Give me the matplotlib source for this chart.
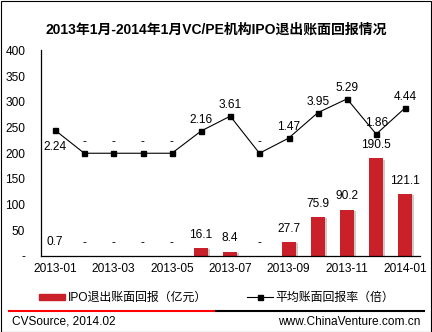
import matplotlib
matplotlib.use('Agg')
import numpy as np
import matplotlib.pyplot as plt
import matplotlib.patheffects as pe
from matplotlib.lines import Line2D
from matplotlib.patches import Patch, Rectangle

plt.rcParams['font.family'] = ['Liberation Sans', 'Noto Sans CJK SC']

# data ("-" in the source = None)
months = ['2013-01', '2013-02', '2013-03', '2013-04', '2013-05', '2013-06', '2013-07',
          '2013-08', '2013-09', '2013-10', '2013-11', '2013-12', '2014-01']
ipo_return = [0.7, None, None, None, None, 16.1, 8.4, None, 27.7, 75.9, 90.2, 190.5, 121.1]
avg_multiple = [2.24, None, None, None, None, 2.16, 3.61, None, 1.47, 3.95, 5.29, 1.86, 4.44]
bar_name = 'IPO退出账面回报（亿元）'
line_name = '平均账面回报率（倍）'
title = '2013年1月-2014年1月VC/PE机构IPO退出账面回报情况'

fs = 8.6
W, H = 432, 332

fig = plt.figure(figsize=(W / 100, H / 100), dpi=100)
ax = fig.add_axes([40.5 / W, 1 - 256 / H, 379.5 / W, 205.5 / H])

x = np.arange(len(months))
bar_vals = [v if v is not None else 0 for v in ipo_return]
ax.bar(x, bar_vals, width=0.48, color='#C9202A', zorder=2,
       path_effects=[pe.SimplePatchShadow(offset=(1.5, -1), shadow_rgbFace='0.5', alpha=0.4), pe.Normal()])
for xi, v in zip(x, ipo_return):
    txt = '-' if v is None else f'{v:.1f}'
    ax.annotate(txt, (xi, v or 0), xytext=(0, 9.5), textcoords='offset points',
                ha='center', va='center', fontsize=fs)

ax.set_xlim(-0.5, len(months) - 0.5)
ax.set_ylim(0, 400)
ax.set_yticks(range(0, 401, 50))
ax.set_yticklabels(['-'] + [str(t) for t in range(50, 401, 50)], fontsize=fs)
ax.set_xticks(x[::2])
ax.set_xticklabels(months[::2], fontsize=fs)
ax.tick_params(axis='y', length=0, pad=11)
ax.tick_params(axis='x', length=0, pad=5)
for s in ['top', 'right']:
    ax.spines[s].set_visible(False)
for s in ['left', 'bottom']:
    ax.spines[s].set_linewidth(0.9)

# line on hidden secondary axis
ax2 = ax.twinx()
ax2.set_ylim(-10, 10)
ax2.axis('off')
line_vals = [v if v is not None else 0 for v in avg_multiple]
ax2.plot(x, line_vals, color='black', lw=0.8, marker='s', ms=3.6, zorder=3)
for i, (xi, v) in enumerate(zip(x, avg_multiple)):
    txt = '-' if v is None else f'{v:.2f}'
    dy = -12 if i == 0 else 8
    ax2.annotate(txt, (xi, v or 0), xytext=(0, dy), textcoords='offset points',
                 ha='center', va='center', fontsize=fs)

# legend
handles = [Patch(color='#C9202A'),
           Line2D([], [], color='black', lw=0.8, marker='s', ms=3.6)]
fig.legend(handles, [bar_name, line_name], loc='center', bbox_to_anchor=(0.502, 1 - 298 / H),
           ncol=2, frameon=False, fontsize=fs, handlelength=2.1, handleheight=0.45,
           handletextpad=0.25, columnspacing=3.4)

# title, separator, footer, border
fig.text(0.5, 1 - 30 / H, title, ha='center', va='center', fontsize=10, fontweight='bold')
y_sep = 1 - 311 / H
fig.add_artist(Line2D([9 / W, 216 / W], [y_sep, y_sep], color='#FF0000', lw=1.5, transform=fig.transFigure))
fig.add_artist(Line2D([216 / W, 424 / W], [y_sep, y_sep], color='black', lw=1.5, transform=fig.transFigure))
fig.text(12 / W, 1 - 322 / H, 'CVSource, 2014.02', ha='left', va='center', fontsize=fs)
fig.text(420 / W, 1 - 322 / H, 'www.ChinaVenture.com.cn', ha='right', va='center', fontsize=fs)
fig.add_artist(Rectangle((0.5 / W, 0.5 / H), 1 - 1.5 / W, 1 - 1 / H, fill=False,
                         edgecolor='black', lw=0.8, transform=fig.transFigure))

fig.savefig('out.png', dpi=100)
